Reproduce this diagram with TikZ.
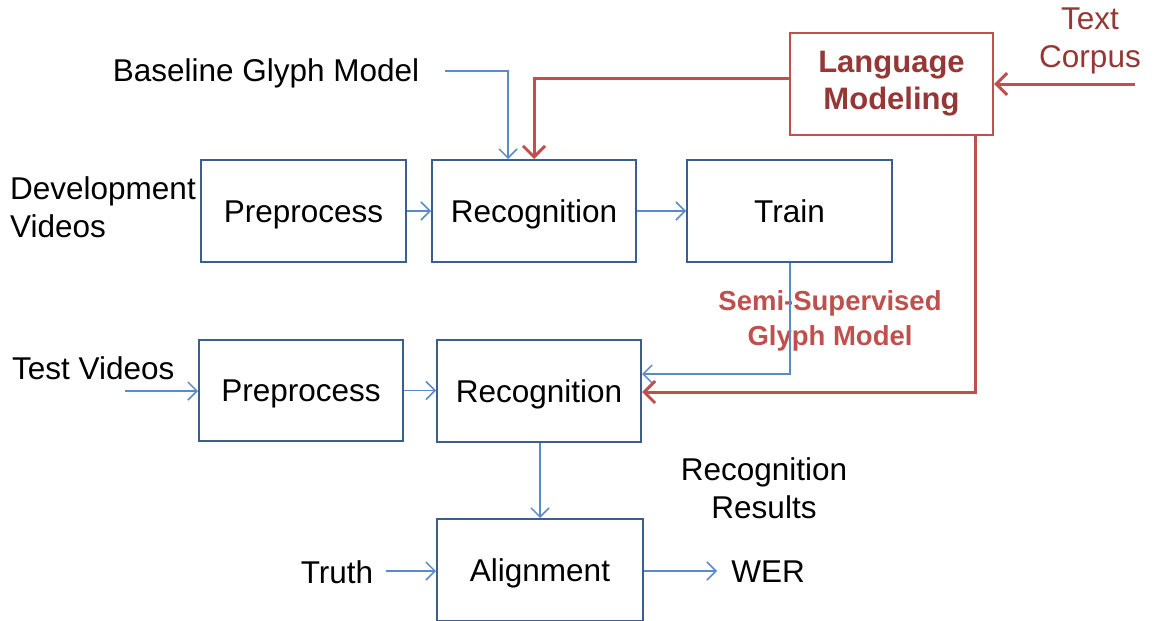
\documentclass[tikz,border=0pt]{standalone}
\usepackage{fontspec}
\setmainfont{Liberation Sans}
\usetikzlibrary{arrows.meta}
\definecolor{boxblue}{HTML}{3B5E8C}
\definecolor{arrblue}{HTML}{5B8BC7}
\definecolor{lmred}{HTML}{C0504D}
\definecolor{darkred}{HTML}{953735}
\begin{document}
\begin{tikzpicture}[x=1pt,y=-1pt,
  procbox/.style={draw=boxblue,line width=2pt,inner sep=0pt,text height=22pt,text depth=0pt,font=\fontsize{31.5}{38}\selectfont},
  lbl/.style={inner sep=0pt,font=\fontsize{31.5}{38}\selectfont,align=center},
  barr/.style={draw=arrblue,line width=1.5pt,-{Straight Barb[length=9pt,width=18pt,line width=1.5pt]}},
  rarr/.style={draw=lmred,line width=3pt,-{Straight Barb[length=11pt,width=22pt,line width=3pt]}}]
\useasboundingbox (0,0) rectangle (1154,621);
% boxes
\node[procbox,minimum width=205pt,minimum height=102pt] (pre1) at (303.5,211) {Preprocess};
\node[procbox,minimum width=204pt,minimum height=102pt] (rec1) at (534,211) {Recognition};
\node[procbox,minimum width=205pt,minimum height=102pt] (train) at (789.5,211) {Train};
\node[draw=lmred,line width=2pt,inner sep=0pt,minimum width=203pt,minimum height=102pt,align=center,text=darkred,font=\bfseries\fontsize{31}{37}\selectfont] (lm) at (891.5,84) {Language\\Modeling};
\node[procbox,minimum width=204pt,minimum height=101pt] (pre2) at (301,390.5) {Preprocess};
\node[procbox,minimum width=204pt,minimum height=102pt] (rec2) at (539,391) {Recognition};
\node[procbox,minimum width=206pt,minimum height=102pt] (align) at (540,570) {Alignment};
% labels
\node[lbl] (base) at (266,73) {Baseline Glyph Model};
\node[lbl,align=left,anchor=west] (dev) at (10,207) {Development\\Videos};
\node[lbl,anchor=west] (test) at (12,368) {Test Videos};
\node[lbl] (truth) at (337,572) {Truth};
\node[lbl] (wer) at (768,572) {WER};
\node[lbl] (res) at (764,488.5) {Recognition\\Results};
\node[lbl,text=darkred] (corpus) at (1090,41) {Text\\Corpus};
\node[inner sep=0pt,align=center,text=lmred,font=\bfseries\fontsize{27.5}{35}\selectfont] (semi) at (830,320.5) {Semi-Supervised\\Glyph Model};
% coordinates
\coordinate (bstart) at (445,71);
\coordinate (tstart) at (125,391);
\coordinate (trstart) at (386,571);
\coordinate (cstart) at (1135,84);
% blue connectors
\draw[barr] (bstart) -| (rec1.north -| 508,0);
\draw[barr] (pre1.east) -- (rec1.west);
\draw[barr] (rec1.east) -- (train.west);
\draw[barr] (tstart) -- (tstart -| pre2.west);
\draw[barr] (pre2.east) -- (pre2.east -| rec2.west);
\draw[barr] (train.south -| 790,0) |- (rec2.east |- 0,374);
\draw[barr] (rec2.south -| 540,0) -- (align.north -| 540,0);
\draw[barr] (trstart) -- (trstart -| align.west);
\draw[barr] (align.east |- 0,571) -- (717,571);
% red connectors
\draw[rarr] (lm.west |- 0,78) -| (rec1.north -| 534,0);
\draw[rarr] (lm.south -| 975,0) |- (rec2.east |- 0,392);
\draw[rarr] (cstart) -- (cstart -| lm.east);
\end{tikzpicture}
\end{document}
